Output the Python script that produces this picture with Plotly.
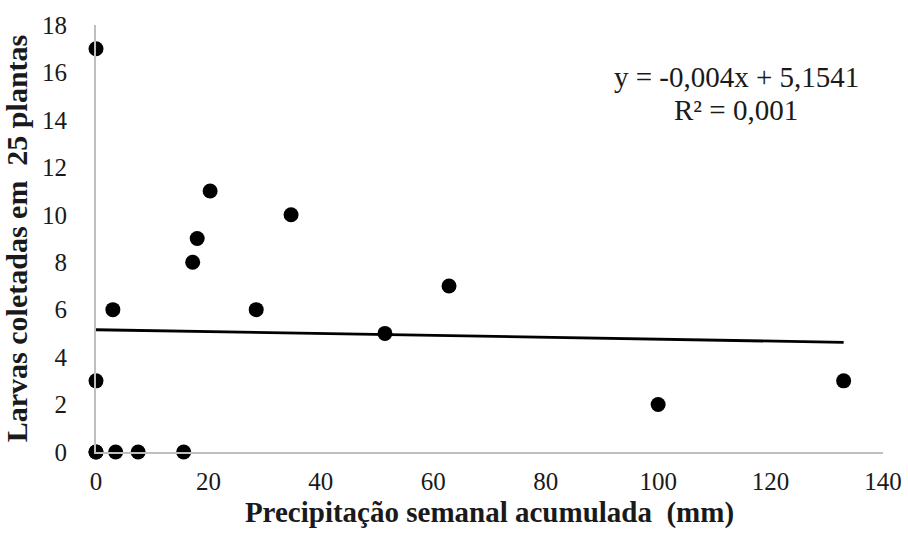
import plotly.graph_objects as go

# Data
precip_mm = [0, 0, 0, 0, 3.0, 3.5, 7.5, 15.6, 17.2, 18.0, 20.3, 28.5, 34.7, 51.4, 62.8, 100.0, 133.0]
larvas = [17, 3, 0, 0, 6, 0, 0, 0, 8, 9, 11, 6, 10, 5, 7, 2, 3]

# Trend line (from the equation shown)
slope = -0.004
intercept = 5.1541
trend_x = [0, 133]
trend_y = [intercept + slope * v for v in trend_x]

x_ticks = [0, 20, 40, 60, 80, 100, 120, 140]
y_ticks = [0, 2, 4, 6, 8, 10, 12, 14, 16, 18]

eq_line1 = "y = -0,004x + 5,1541"
eq_line2 = "R² = 0,001"

font_family = "Liberation Serif, Times New Roman, serif"
text_color = "#1a1a1a"

L, R, T, B = 96, 25, 25, 84
W, H = 908, 536
pw, ph = W - L - R, H - T - B

fig = go.Figure()
fig.add_trace(go.Scatter(
    x=trend_x, y=trend_y, mode="lines",
    line=dict(color="black", width=2.8),
    showlegend=False, hoverinfo="skip", cliponaxis=False,
))
fig.add_trace(go.Scatter(
    x=precip_mm, y=larvas, mode="markers",
    marker=dict(color="black", size=15, line=dict(width=0)),
    showlegend=False, cliponaxis=False,
))

fig.update_layout(
    width=W, height=H,
    margin=dict(l=L, r=R, t=T, b=B),
    plot_bgcolor="white", paper_bgcolor="white",
    font=dict(family=font_family, size=25, color=text_color),
    xaxis=dict(
        range=[0, 140], tickvals=x_ticks, ticktext=[str(v) for v in x_ticks],
        showgrid=False, zeroline=False, showline=True, linecolor="#bfbfbf", linewidth=2,
        ticks="", ticklabelstandoff=6, automargin=False,
        tickfont=dict(size=25, family=font_family, color=text_color),
        title=dict(text="<b>Precipitação semanal acumulada  (mm)</b>",
                   font=dict(size=29, family=font_family, color=text_color), standoff=8),
    ),
    yaxis=dict(
        range=[0, 18], tickvals=y_ticks, ticktext=[str(v) for v in y_ticks],
        showgrid=False, zeroline=False, showline=True, linecolor="#bfbfbf", linewidth=2,
        ticks="", ticklabelstandoff=22, automargin=False,
        tickfont=dict(size=25, family=font_family, color=text_color),
        title=dict(text="<b>Larvas coletadas em  25 plantas</b>",
                   font=dict(size=30, family=font_family, color=text_color), standoff=10),
    ),
    annotations=[
        dict(x=(736 - L) / pw, y=(H - B - 77) / ph, xref="paper", yref="paper",
             xanchor="center", yanchor="middle", showarrow=False, text=eq_line1,
             font=dict(size=29, family=font_family, color=text_color)),
        dict(x=(736 - L) / pw, y=(H - B - 110) / ph, xref="paper", yref="paper",
             xanchor="center", yanchor="middle", showarrow=False, text=eq_line2,
             font=dict(size=29, family=font_family, color=text_color)),
    ],
)

fig.write_html("out.html", config={"displayModeBar": False},
               post_script="document.body.style.margin='0';")
